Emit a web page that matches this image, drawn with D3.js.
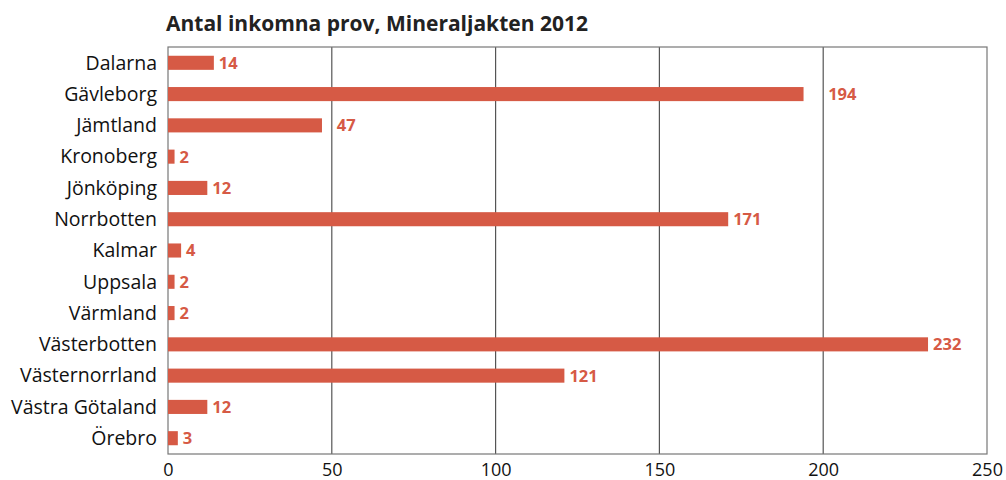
<!DOCTYPE html>
<html>
<head>
<meta charset="utf-8">
<script src="https://cdn.jsdelivr.net/npm/d3@7"></script>
<style>
  body { margin: 0; background: #fff; }
  text { font-family: "Open Sans", "Noto Sans", sans-serif; }
</style>
</head>
<body>
<div id="chart"></div>
<script>
// Data
var counties = ["Dalarna", "Gävleborg", "Jämtland", "Kronoberg", "Jönköping", "Norrbotten", "Kalmar",
                "Uppsala", "Värmland", "Västerbotten", "Västernorrland", "Västra Götaland", "Örebro"];
var samples = [14, 194, 47, 2, 12, 171, 4, 2, 2, 232, 121, 12, 3];
var xTicks = [0, 50, 100, 150, 200, 250];

var barColor = "#d65a45";

var margin = { top: 47, right: 19, bottom: 26, left: 168 },
    width = 1006 - margin.left - margin.right,
    height = 480 - margin.top - margin.bottom;

var svg = d3.select("#chart")
    .append("svg")
    .attr("width", 1006)
    .attr("height", 480);

// Title
svg.append("text")
    .attr("x", 166)
    .attr("y", 31)
    .style("font-size", "21px")
    .style("font-weight", "bold")
    .style("fill", "#222")
    .text("Antal inkomna prov, Mineraljakten 2012");

var g = svg.append("g")
    .attr("transform", "translate(" + margin.left + "," + margin.top + ")");

var x = d3.scaleLinear()
    .domain([0, 250])
    .range([0, width]);

var y = d3.scaleBand()
    .domain(counties)
    .range([0, height])
    .paddingInner(0.55)
    .paddingOuter(0.28);

// grid lines
g.selectAll(".grid")
    .data(xTicks.slice(1, -1))
    .enter().append("line")
    .attr("x1", function(d) { return x(d); })
    .attr("x2", function(d) { return x(d); })
    .attr("y1", 0)
    .attr("y2", height)
    .style("stroke", "#555")
    .style("stroke-width", 1.2);

// frame
g.append("rect")
    .attr("x", 0)
    .attr("y", 0)
    .attr("width", width)
    .attr("height", height)
    .style("fill", "none")
    .style("stroke", "#777")
    .style("stroke-width", 1.2);

// bars
g.selectAll(".bar")
    .data(counties)
    .enter().append("rect")
    .attr("x", 0)
    .attr("y", function(d) { return y(d); })
    .attr("width", function(d, i) { return x(samples[i]); })
    .attr("height", y.bandwidth())
    .style("fill", barColor);

// value labels, pushed past a grid line if they would sit on it
var labels = g.selectAll(".val")
    .data(counties)
    .enter().append("text")
    .attr("y", function(d) { return y(d) + y.bandwidth() / 2; })
    .attr("dy", "0.36em")
    .style("font-size", "16.5px")
    .style("font-weight", "bold")
    .style("fill", barColor)
    .text(function(d, i) { return samples[i]; });

labels.each(function(d, i) {
    var lx = x(samples[i]) + 5;
    var w = this.getComputedTextLength();
    xTicks.slice(1, -1).forEach(function(t) {
        var gx = x(t);
        if (gx > lx - 3 && gx < lx + w + 2) lx = gx + 5;
    });
    d3.select(this).attr("x", lx);
});

// category labels
g.append("g")
    .attr("transform", "translate(-11,0)")
    .selectAll("text")
    .data(counties)
    .enter().append("text")
    .attr("x", 0)
    .attr("y", function(d) { return y(d) + y.bandwidth() / 2; })
    .attr("dy", "0.35em")
    .style("text-anchor", "end")
    .style("font-size", "19.5px")
    .style("fill", "#111")
    .text(function(d) { return d; });

// X axis labels
var xAxis = g.append("g")
    .attr("transform", "translate(0," + height + ")")
    .call(d3.axisBottom(x).tickValues(xTicks).tickSize(0).tickPadding(9));
xAxis.select(".domain").remove();
xAxis.selectAll("text")
    .style("font-size", "18px")
    .style("fill", "#111")
    .style("font-family", "'Open Sans', 'Noto Sans', sans-serif");
</script>
</body>
</html>
